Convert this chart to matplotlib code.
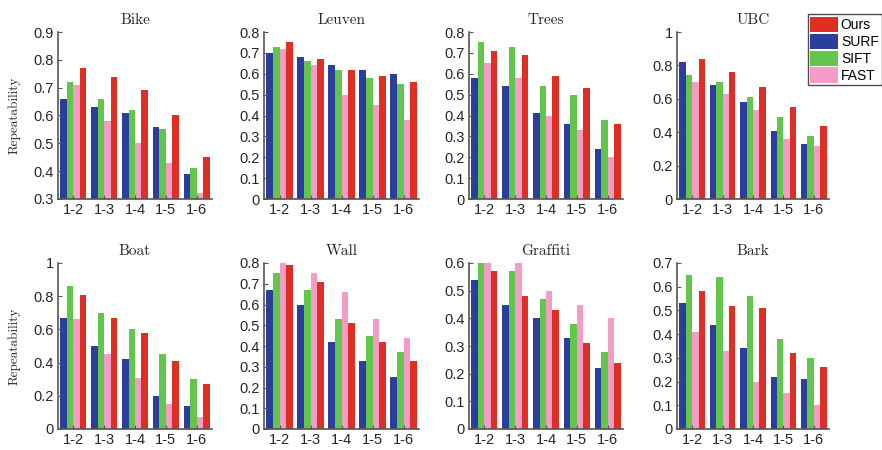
import matplotlib
matplotlib.use("Agg")
import matplotlib.pyplot as plt
import numpy as np
from matplotlib.patches import Patch

groups = ["1-2", "1-3", "1-4", "1-5", "1-6"]
methods = ["SURF", "SIFT", "FAST", "Ours"]
colors = {"SURF": "#2c3e9c", "SIFT": "#62c64c", "FAST": "#f39cc5", "Ours": "#df2f24"}

titles = ["Bike", "Leuven", "Trees", "UBC", "Boat", "Wall", "Graffiti", "Bark"]

bike_surf = [0.66, 0.63, 0.61, 0.56, 0.39]
bike_sift = [0.72, 0.66, 0.62, 0.55, 0.41]
bike_fast = [0.71, 0.58, 0.50, 0.43, 0.32]
bike_ours = [0.77, 0.74, 0.69, 0.60, 0.45]

leuven_surf = [0.70, 0.68, 0.64, 0.62, 0.60]
leuven_sift = [0.73, 0.66, 0.62, 0.58, 0.55]
leuven_fast = [0.72, 0.64, 0.50, 0.45, 0.38]
leuven_ours = [0.75, 0.67, 0.62, 0.59, 0.56]

trees_surf = [0.58, 0.54, 0.41, 0.36, 0.24]
trees_sift = [0.75, 0.73, 0.54, 0.50, 0.38]
trees_fast = [0.65, 0.58, 0.40, 0.33, 0.20]
trees_ours = [0.71, 0.69, 0.59, 0.53, 0.36]

ubc_surf = [0.82, 0.68, 0.58, 0.41, 0.33]
ubc_sift = [0.74, 0.70, 0.61, 0.49, 0.38]
ubc_fast = [0.70, 0.63, 0.53, 0.36, 0.32]
ubc_ours = [0.84, 0.76, 0.67, 0.55, 0.44]

boat_surf = [0.67, 0.50, 0.42, 0.20, 0.14]
boat_sift = [0.86, 0.70, 0.60, 0.45, 0.30]
boat_fast = [0.66, 0.45, 0.31, 0.15, 0.07]
boat_ours = [0.81, 0.67, 0.58, 0.41, 0.27]

wall_surf = [0.67, 0.60, 0.42, 0.33, 0.25]
wall_sift = [0.75, 0.67, 0.53, 0.45, 0.37]
wall_fast = [0.80, 0.75, 0.66, 0.53, 0.44]
wall_ours = [0.79, 0.71, 0.51, 0.42, 0.33]

graffiti_surf = [0.54, 0.45, 0.40, 0.33, 0.22]
graffiti_sift = [0.60, 0.57, 0.47, 0.38, 0.28]
graffiti_fast = [0.60, 0.60, 0.50, 0.45, 0.40]
graffiti_ours = [0.57, 0.48, 0.43, 0.31, 0.24]

bark_surf = [0.53, 0.44, 0.34, 0.22, 0.21]
bark_sift = [0.65, 0.64, 0.56, 0.38, 0.30]
bark_fast = [0.41, 0.33, 0.20, 0.15, 0.10]
bark_ours = [0.58, 0.52, 0.51, 0.32, 0.26]

data = [
    (bike_surf, bike_sift, bike_fast, bike_ours),
    (leuven_surf, leuven_sift, leuven_fast, leuven_ours),
    (trees_surf, trees_sift, trees_fast, trees_ours),
    (ubc_surf, ubc_sift, ubc_fast, ubc_ours),
    (boat_surf, boat_sift, boat_fast, boat_ours),
    (wall_surf, wall_sift, wall_fast, wall_ours),
    (graffiti_surf, graffiti_sift, graffiti_fast, graffiti_ours),
    (bark_surf, bark_sift, bark_fast, bark_ours),
]

ylims = [(0.3, 0.9), (0, 0.8), (0, 0.8), (0, 1), (0, 1), (0, 0.8), (0, 0.6), (0, 0.7)]
yticks = [
    [0.3, 0.4, 0.5, 0.6, 0.7, 0.8, 0.9],
    [0, 0.1, 0.2, 0.3, 0.4, 0.5, 0.6, 0.7, 0.8],
    [0, 0.1, 0.2, 0.3, 0.4, 0.5, 0.6, 0.7, 0.8],
    [0, 0.2, 0.4, 0.6, 0.8, 1],
    [0, 0.2, 0.4, 0.6, 0.8, 1],
    [0, 0.1, 0.2, 0.3, 0.4, 0.5, 0.6, 0.7, 0.8],
    [0, 0.1, 0.2, 0.3, 0.4, 0.5, 0.6],
    [0, 0.1, 0.2, 0.3, 0.4, 0.5, 0.6, 0.7],
]

W, H = 882, 450
fig = plt.figure(figsize=(8.82, 4.5), dpi=100)

col_lefts = [58, 264, 469, 677]
col_widths = [154, 155, 154, 152]
row_tops = [32, 263]
row_bottoms = [199, 429]

tick_font = "Liberation Sans"
serif_font = "cmr10"

def fmt(v):
    if abs(v - round(v)) < 1e-9:
        return str(int(round(v)))
    return ("%.1f" % v)

bw = 0.21
x = np.arange(1, len(groups) + 1)
for i, (title, series) in enumerate(zip(titles, data)):
    r, c = divmod(i, 4)
    left = col_lefts[c] / W
    width = col_widths[c] / W
    bottom = 1 - row_bottoms[r] / H
    height = (row_bottoms[r] - row_tops[r]) / H
    ax = fig.add_axes([left, bottom, width, height])
    for k, (m, vals) in enumerate(zip(methods, series)):
        ax.bar(x + (k - 1.5) * bw, vals, width=bw, color=colors[m], linewidth=0)
    ax.set_xlim(0.5, 5.5)
    ax.set_ylim(*ylims[i])
    ax.set_yticks(yticks[i])
    ax.set_yticklabels([fmt(v) for v in yticks[i]], fontfamily=tick_font, fontsize=10.5, color="#262626")
    ax.set_xticks(x)
    ax.set_xticklabels(groups, fontfamily=tick_font, fontsize=10.5, color="#262626")
    for s in ["top", "right"]:
        ax.spines[s].set_visible(False)
    for s in ["left", "bottom"]:
        ax.spines[s].set_color("#555555")
        ax.spines[s].set_linewidth(1.2)
    ax.tick_params(axis="both", direction="in", length=3, width=0.8, color="#555555", pad=3)
    ax.set_title(title, fontfamily=serif_font, fontsize=11, color="#262626", pad=6)
    if c == 0:
        ax.set_ylabel("Repeatability", fontfamily=serif_font, fontsize=9.5, color="#262626")
        ax.yaxis.set_label_coords(-37 / 154, 0.5)

handles = [Patch(facecolor=colors[m], edgecolor="none") for m in ["Ours", "SURF", "SIFT", "FAST"]]
leg = fig.legend(handles, ["Ours", "SURF", "SIFT", "FAST"], loc="upper right",
                 bbox_to_anchor=(881.5 / W, 1 - 14 / H), prop={"family": tick_font, "size": 10},
                 frameon=True, fancybox=False, handlelength=2.0, handleheight=1.3,
                 labelspacing=0.12, borderpad=0.2, handletextpad=0.2, borderaxespad=0)
leg.get_frame().set_edgecolor("#222222")
leg.get_frame().set_linewidth(1.0)

fig.savefig("out.png", dpi=100)
